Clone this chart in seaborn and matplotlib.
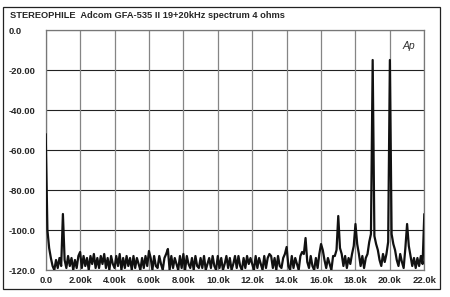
import numpy as np
import pandas as pd
import matplotlib
matplotlib.use("Agg")
import matplotlib.pyplot as plt
from matplotlib.patches import Rectangle
import seaborn as sns

# ---- data ----
# noise floor, one value per 0.1 kHz from 0.0k to 22.0k
floor_db = [
    -52, -100, -109, -114, -118, -120, -115, -119, -114, -118,
    -120, -115, -119, -113, -118, -114, -120, -115, -119, -113,
    -116, -119, -113, -118, -114, -120, -113, -117, -112, -119,
    -114, -119, -113, -117, -112, -119, -114, -120, -113, -117,
    -119, -113, -118, -112, -120, -114, -119, -113, -118, -114,
    -120, -113, -119, -114, -117, -120, -114, -119, -113, -118,
    -119, -114, -120, -113, -118, -119, -113, -117, -120, -114,
    -112, -117, -120, -113, -119, -114, -117, -120, -113, -119,
    -114, -120, -113, -117, -119, -114, -120, -113, -118, -119,
    -114, -119, -113, -120, -117, -114, -119, -113, -118, -120,
    -113, -119, -114, -120, -117, -113, -119, -114, -120, -117,
    -114, -119, -113, -118, -120, -114, -119, -113, -117, -114,
    -117, -120, -113, -119, -114, -117, -120, -113, -119, -114,
    -117, -113, -119, -114, -120, -113, -118, -119, -114, -112,
    -113, -118, -120, -113, -119, -114, -117, -120, -113, -111,
    -112, -111, -116, -119, -113, -118, -120, -114, -119, -112,
    -113, -110, -115, -119, -114, -117, -120, -113, -113, -110,
    -110, -109, -112, -118, -113, -119, -114, -117, -112, -108,
    -109, -107, -112, -118, -113, -119, -114, -112, -106, -102,
    -104, -103, -107, -110, -115, -118, -112, -116, -112, -106,
    -102, -102, -107, -110, -115, -118, -112, -116, -119, -109,
    -112, -108, -113, -118, -114, -119, -114, -118, -113, -117,
    -108,
]
# discrete spectral lines
spike_khz = [1.0, 2.0, 6.0, 7.1, 8.0, 11.0, 13.0, 14.0, 15.1, 16.0, 17.0, 18.0, 19.0, 20.0, 21.0, 22.0]
spike_db = [-92, -111, -110.5, -109.5, -112, -113, -112, -108.5, -104, -107, -93, -97, -15, -15, -97, -92]

x_ticks = [0, 2, 4, 6, 8, 10, 12, 14, 16, 18, 20, 22]
x_labels = ["0.0", "2.00k", "4.00k", "6.00k", "8.00k", "10.0k", "12.0k",
            "14.0k", "16.0k", "18.0k", "20.0k", "22.0k"]
y_ticks = [0, -20, -40, -60, -80, -100, -120]
y_labels = ["0.0", "-20.00", "-40.00", "-60.00", "-80.00", "-100.0", "-120.0"]
title = "STEREOPHILE  Adcom GFA-535 II 19+20kHz spectrum 4 ohms"

# ---- build trace ----
freq = np.round(np.arange(len(floor_db)) * 0.1, 1)
level = np.array(floor_db, dtype=float)
for f, v in zip(spike_khz, spike_db):
    level[int(round(f * 10))] = v
df = pd.DataFrame({"freq": freq, "level": level})

sns.set_theme(style="white")
plt.rcParams["font.family"] = ["Liberation Sans", "DejaVu Sans"]

fig = plt.figure(figsize=(4.5, 2.97), dpi=100)
ax = fig.add_axes([45.7 / 450, 1 - 270 / 297, (424.3 - 45.7) / 450, 240 / 297])

for yv in y_ticks:
    ax.axhline(yv, color="#222222", lw=0.8, zorder=1)
for xv in x_ticks:
    ax.axvline(xv, color="#858585", lw=0.9, zorder=1)

sns.lineplot(data=df, x="freq", y="level", estimator=None, sort=True,
             color="#111111", lw=1.6, ax=ax, zorder=3)

ax.set_xlim(0, 22)
ax.set_ylim(-120, 0)
ax.set_xticks(x_ticks)
ax.set_xticklabels(x_labels, fontsize=6.8, fontweight="bold")
ax.set_yticks(y_ticks)
ax.set_yticklabels(y_labels, fontsize=6.8, fontweight="bold", ha="left")
ax.tick_params(axis="y", length=0, pad=26.8)
ax.tick_params(axis="x", length=0, pad=4)
ax.set_xlabel("")
ax.set_ylabel("")
for s in ax.spines.values():
    s.set_color("#777777")
    s.set_linewidth(0.9)

ax.text(0.975, 0.955, "Ap", transform=ax.transAxes, ha="right", va="top",
        fontsize=7.5, fontstyle="italic", color="#333333")

fig.text(10 / 450, 1 - 16 / 297, title, fontsize=6.7, fontweight="bold",
         ha="left", va="center")

fig.patches.append(Rectangle((3 / 450, 1 - 289 / 297), 437 / 450, 282 / 297,
                             transform=fig.transFigure, fill=False,
                             edgecolor="#222222", lw=0.9))

fig.savefig("out.png", dpi=100)
